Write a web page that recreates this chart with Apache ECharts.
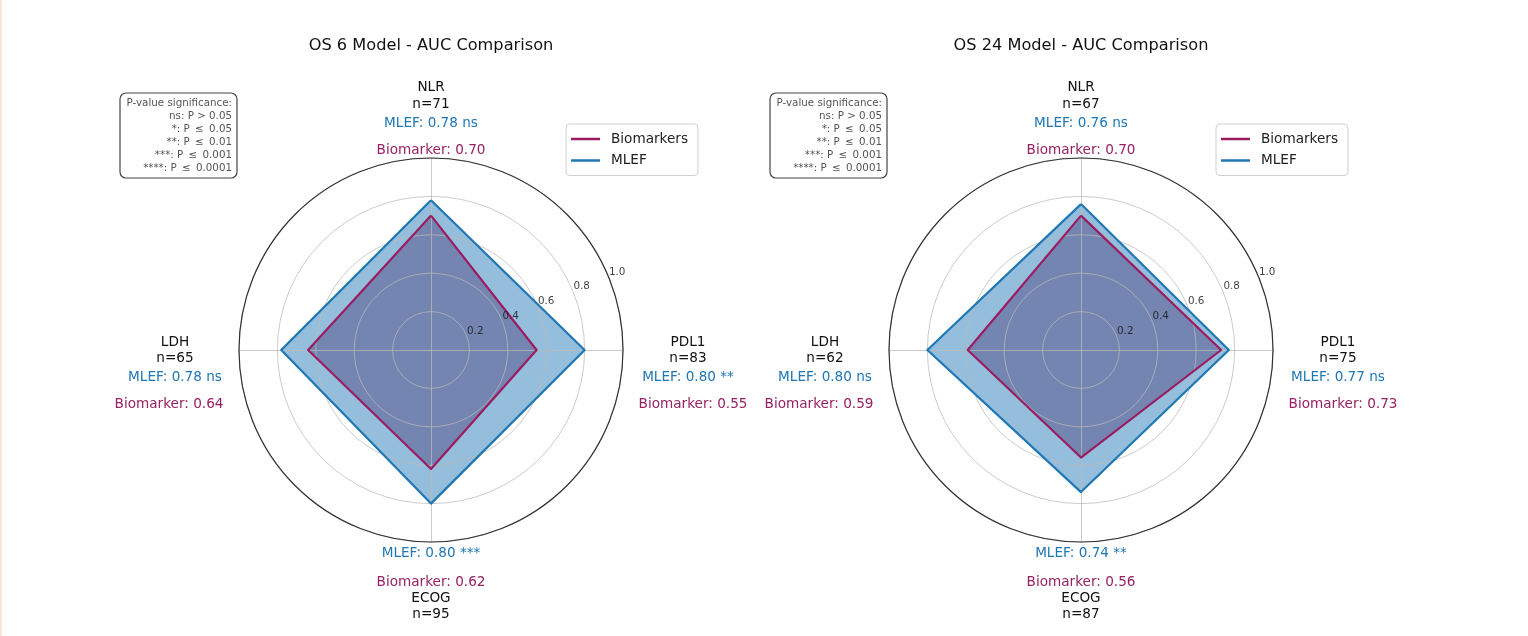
<!DOCTYPE html>
<html>
<head>
<meta charset="utf-8">
<script src="https://cdn.jsdelivr.net/npm/echarts@6/dist/echarts.min.js"></script>
<style>
html,body{margin:0;padding:0;background:#fff;}
#chart{width:1528px;height:636px;}
</style>
</head>
<body>
<div id="chart"></div>
<script>
// ---------- data ----------
const categories = ['NLR', 'PDL1', 'ECOG', 'LDH'];
const titles = ['OS 6 Model - AUC Comparison', 'OS 24 Model - AUC Comparison'];
const os6N = [71, 83, 95, 65];
const os6Mlef = [0.78, 0.80, 0.80, 0.78];
const os6MlefSig = ['ns', '**', '***', 'ns'];
const os6Bio = [0.70, 0.55, 0.62, 0.64];
const os24N = [67, 75, 87, 62];
const os24Mlef = [0.76, 0.77, 0.74, 0.80];
const os24MlefSig = ['ns', 'ns', '**', 'ns'];
const os24Bio = [0.70, 0.73, 0.56, 0.59];
const radialTicks = [0.2, 0.4, 0.6, 0.8, 1.0];
const legendNames = ['Biomarkers', 'MLEF'];
const pvalueLines = ['P-value significance:', 'ns: P > 0.05', '*: P \u2009\u2264\u2009 0.05', '**: P \u2009\u2264\u2009 0.01', '***: P \u2009\u2264\u2009 0.001', '****: P \u2009\u2264\u2009 0.0001'];

// ---------- style ----------
const FONT = 'DejaVu Sans';
const BLUE = '#1f77b4';
const PURPLE = '#9a1d62';
const BIO_TEXT = '#962262';
const GRID = 'rgba(185,185,185,0.75)';
const panels = [
  { cx: 431, n: os6N, mlef: os6Mlef, sig: os6MlefSig, bio: os6Bio, title: titles[0] },
  { cx: 1081, n: os24N, mlef: os24Mlef, sig: os24MlefSig, bio: os24Bio, title: titles[1] }
];
const CY = 350, R = 192;
// radar goes counter-clockwise: NLR(top), LDH(left), ECOG(bottom), PDL1(right)
const order = [0, 3, 2, 1];

const radar = [], polar = [], angleAxis = [], radiusAxis = [], series = [], legend = [], graphic = [];

graphic.push({ type: 'rect', left: 0, top: 0, shape: { x: 0, y: 0, width: 2, height: 636 }, style: { fill: '#fbe6d8' } });

panels.forEach((p, i) => {
  radar.push({
    center: [p.cx, CY], radius: R, shape: 'circle', startAngle: 90,
    splitNumber: 5, z: 2,
    indicator: order.map(k => ({ name: categories[k], min: 0, max: 1 })),
    axisName: { show: false },
    splitArea: { show: false },
    splitLine: { lineStyle: { color: GRID, width: 1 } },
    axisLine: { lineStyle: { color: GRID, width: 1 } },
    axisTick: { show: false }, axisLabel: { show: false }
  });
  polar.push({ center: [p.cx, CY], radius: R });
  angleAxis.push({
    polarIndex: i, type: 'value', min: 0, max: 360, startAngle: 0, clockwise: false, z: 4,
    axisLine: { show: true, lineStyle: { color: '#333', width: 1.2 } },
    axisTick: { show: false }, axisLabel: { show: false }, splitLine: { show: false }
  });
  radiusAxis.push({
    polarIndex: i, type: 'value', min: 0, max: 1, show: false,
    axisLine: { show: false }, axisTick: { show: false }, axisLabel: { show: false }, splitLine: { show: false }
  });

  // fills (below grid)
  series.push({
    type: 'radar', radarIndex: i, z: 1, symbol: 'none', silent: true,
    data: [
      { name: 'MLEF fill', value: order.map(k => p.mlef[k]),
        lineStyle: { width: 0, opacity: 0 }, areaStyle: { color: 'rgba(31,119,180,0.48)', opacity: 1 } },
      { name: 'Bio fill', value: order.map(k => p.bio[k]),
        lineStyle: { width: 0, opacity: 0 }, areaStyle: { color: 'rgba(83,76,135,0.5)', opacity: 1 } }
    ]
  });
  // lines (above grid)
  series.push({
    type: 'radar', radarIndex: i, z: 3, symbol: 'none', name: 'Biomarkers',
    data: [{ name: 'Biomarkers', value: order.map(k => p.bio[k]), lineStyle: { color: PURPLE, width: 2.2 }, itemStyle: { color: PURPLE } }]
  });
  series.push({
    type: 'radar', radarIndex: i, z: 3, symbol: 'none', name: 'MLEF',
    data: [{ name: 'MLEF', value: order.map(k => p.mlef[k]), lineStyle: { color: BLUE, width: 2.2 }, itemStyle: { color: BLUE } }]
  });
  // radial tick labels along 22.5 deg
  series.push({
    type: 'scatter', coordinateSystem: 'polar', polarIndex: i, z: 5, silent: true,
    symbolSize: 1, itemStyle: { color: 'rgba(0,0,0,0)' },
    data: radialTicks.map(v => [v, 22.5]),
    label: {
      show: true, position: [1, 1], align: 'left', verticalAlign: 'bottom',
      formatter: d => d.value[0].toFixed(1), fontFamily: FONT, fontSize: 10.4, color: '#111'
    }
  });

  legend.push({
    orient: 'vertical', left: p.cx + 135, top: 124, itemWidth: 29, itemHeight: 2.5, itemGap: 7.5,
    padding: [8, 10, 8, 5], backgroundColor: '#fff', borderColor: '#d0d0d0', borderWidth: 1, borderRadius: 4,
    selectedMode: false,
    textStyle: { fontFamily: FONT, fontSize: 13.6, color: '#222', padding: [0, 0, 0, 6] },
    data: [
      { name: legendNames[0], icon: 'rect', itemStyle: { color: PURPLE } },
      { name: legendNames[1], icon: 'rect', itemStyle: { color: BLUE } }
    ]
  });

  // title
  graphic.push({ type: 'text', x: p.cx, y: 46, style: { text: p.title, fontFamily: FONT, fontSize: 16.2, fill: '#111', textAlign: 'center', textVerticalAlign: 'middle' } });

  // category text blocks
  const txt = (x, y, s, color) => graphic.push({ type: 'text', x: x, y: y, z: 10,
    style: { text: s, fontFamily: FONT, fontSize: 13.6, fill: color, textAlign: 'center', textVerticalAlign: 'middle' } });
  const mlefStr = k => 'MLEF: ' + p.mlef[k].toFixed(2) + ' ' + p.sig[k];
  const bioStr = k => 'Biomarker: ' + p.bio[k].toFixed(2);
  // NLR (top)
  txt(p.cx, 87, categories[0], '#111'); txt(p.cx, 104, 'n=' + p.n[0], '#111');
  txt(p.cx, 123, mlefStr(0), BLUE); txt(p.cx, 150, bioStr(0), BIO_TEXT);
  // PDL1 (right)
  txt(p.cx + 257, 342, categories[1], '#111'); txt(p.cx + 257, 358, 'n=' + p.n[1], '#111');
  txt(p.cx + 257, 377, mlefStr(1), BLUE); txt(p.cx + 262, 404, bioStr(1), BIO_TEXT);
  // ECOG (bottom)
  txt(p.cx, 553, mlefStr(2), BLUE); txt(p.cx, 582, bioStr(2), BIO_TEXT);
  txt(p.cx, 598, categories[2], '#111'); txt(p.cx, 614, 'n=' + p.n[2], '#111');
  // LDH (left)
  txt(p.cx - 256, 342, categories[3], '#111'); txt(p.cx - 256, 358, 'n=' + p.n[3], '#111');
  txt(p.cx - 256, 377, mlefStr(3), BLUE); txt(p.cx - 262, 404, bioStr(3), BIO_TEXT);

  // p-value box
  const bx = p.cx - 311;
  graphic.push({ type: 'rect', z: 10, shape: { x: bx, y: 93, width: 117, height: 85, r: 6 },
    style: { fill: '#fff', stroke: '#444', lineWidth: 1.2 } });
  graphic.push({ type: 'text', z: 11, x: bx + 112, y: 97,
    style: { text: pvalueLines.join('\n'), fontFamily: FONT, fontSize: 10.3, lineHeight: 13, fill: '#555', textAlign: 'right', textVerticalAlign: 'top' } });
});

const chart = echarts.init(document.getElementById('chart'), null, { renderer: 'canvas' });
chart.setOption({
  backgroundColor: '#fff',
  animation: false,
  radar: radar,
  polar: polar,
  angleAxis: angleAxis,
  radiusAxis: radiusAxis,
  legend: legend,
  series: series,
  graphic: graphic
});
</script>
</body>
</html>
